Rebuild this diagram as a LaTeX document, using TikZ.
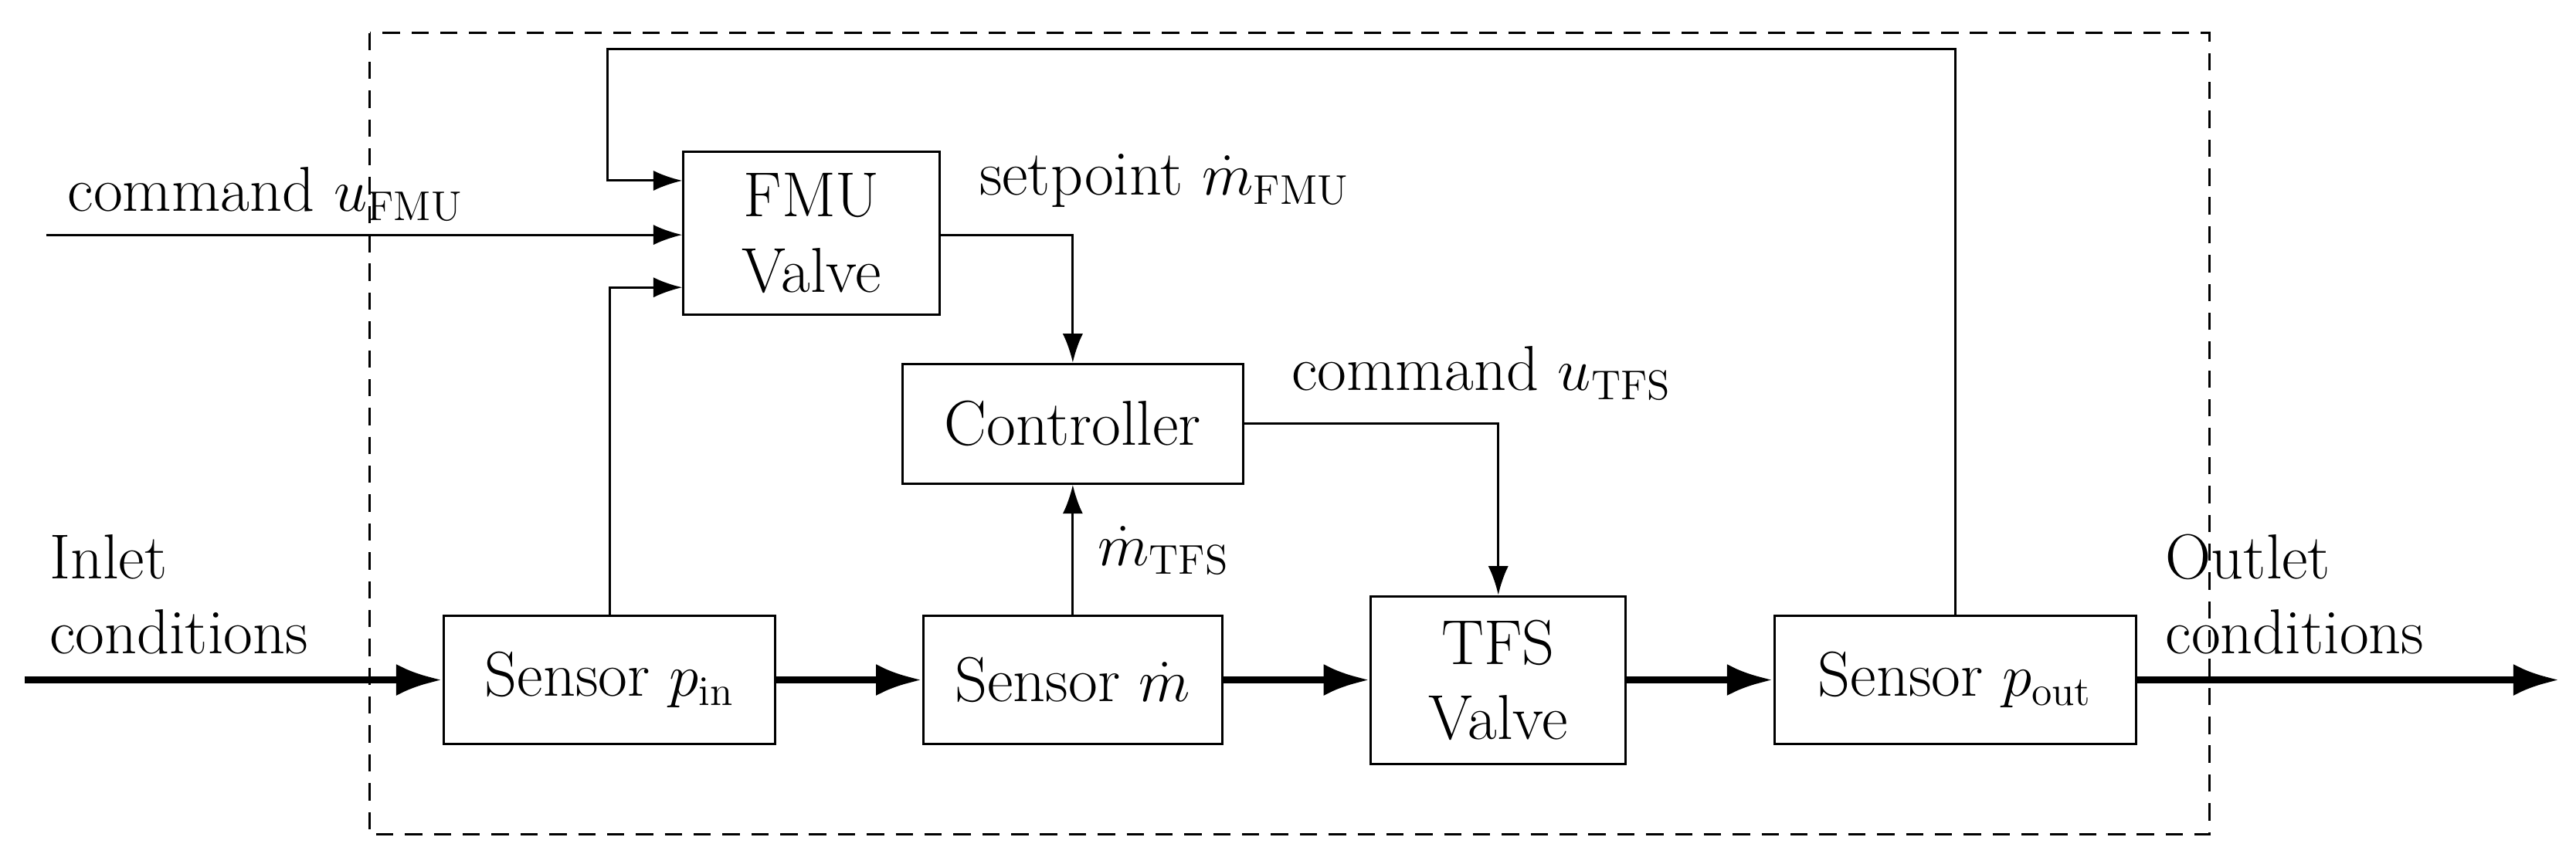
\documentclass[tikz,border=0pt]{standalone}
\usetikzlibrary{arrows.meta}
\begin{document}
\begin{tikzpicture}[x=0.02cm,y=-0.02cm,
  every node/.style={font=\fontsize{22}{26}\selectfont},
  box/.style={draw,line width=0.8pt,inner sep=0pt,align=center},
  sig/.style={line width=0.8pt,-{Latex[length=10pt,width=7pt]}},
  flow/.style={line width=2.6pt,-{Latex[length=16pt,width=11pt]}}]
\useasboundingbox (0,0) rectangle (1568,520);
\draw[dash pattern=on 6pt off 4pt,line width=0.8pt] (225,20) rectangle (1345,508);
\node[box,minimum width=156*0.02cm,minimum height=99*0.02cm] (fmu) at (494,142) {FMU\\Valve};
\node[box,minimum width=207*0.02cm,minimum height=73*0.02cm] (ctl) at (653,258) {Controller};
\node[box,minimum width=202*0.02cm,minimum height=78*0.02cm] (spin) at (371,414) {Sensor $p_{\mathrm{in}}$};
\node[box,minimum width=182*0.02cm,minimum height=78*0.02cm] (sm) at (653,414) {Sensor $\dot m$};
\node[box,minimum width=155*0.02cm,minimum height=102*0.02cm] (tfs) at (912,414) {TFS\\Valve};
\node[box,minimum width=220*0.02cm,minimum height=78*0.02cm] (spout) at (1190,414) {Sensor $p_{\mathrm{out}}$};
\coordinate (in) at (15,414);
\coordinate (out) at (1558,414);
\coordinate (cmd) at (28,143);
\draw[flow] (in) -- (spin);
\draw[flow] (spin) -- (sm);
\draw[flow] (sm) -- (tfs);
\draw[flow] (tfs) -- (spout);
\draw[flow] (spout) -- (out);
\draw[sig] (spout.north) |- (370,30) |- (fmu.west |- 0,110);
\draw[sig] (cmd) -- (fmu.west |- cmd);
\draw[sig] (spin.north) |- (fmu.west |- 0,175);
\draw[sig] (fmu.east |- 0,143) -| (ctl.north);
\draw[sig] (sm.north) -- (ctl.south);
\draw[sig] (ctl.east) -| (tfs.north);
\node[anchor=west] (lcf) at (35,118) {command $u_{\mathrm{FMU}}$};
\node[anchor=west] (lsp) at (590,110) {setpoint $\dot m_{\mathrm{FMU}}$};
\node[anchor=west] (lct) at (780,227) {command $u_{\mathrm{TFS}}$};
\node[anchor=west] (lmt) at (662,335) {$\dot m_{\mathrm{TFS}}$};
\node[anchor=west,align=left] (lin) at (24,362) {Inlet\\conditions};
\node[anchor=west,align=left] (lout) at (1312,362) {Outlet\\conditions};
\end{tikzpicture}
\end{document}
